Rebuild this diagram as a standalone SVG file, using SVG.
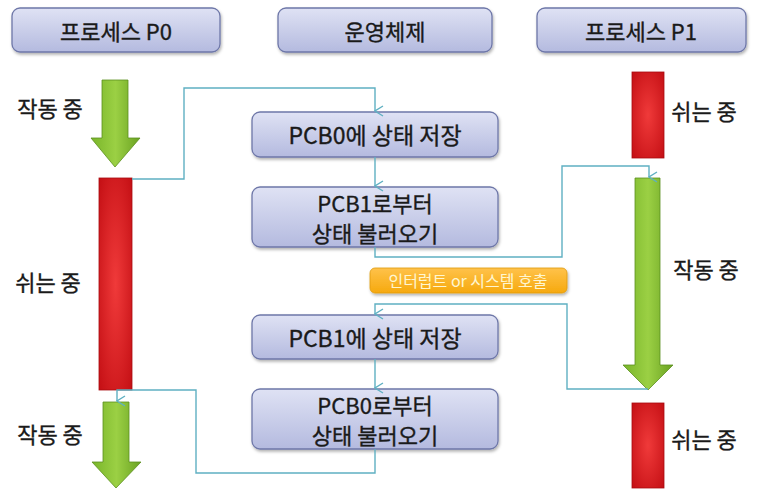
<svg xmlns="http://www.w3.org/2000/svg" width="768" height="503" viewBox="0 0 768 503">
<defs>
<linearGradient id="gBox" x1="0" y1="0" x2="0" y2="1">
<stop offset="0" stop-color="#dfe2f4"/>
<stop offset="1" stop-color="#b4badf"/>
</linearGradient>
<linearGradient id="gGreen" x1="0" y1="0" x2="1" y2="0">
<stop offset="0" stop-color="#79b52a"/>
<stop offset="0.5" stop-color="#9bd044"/>
<stop offset="1" stop-color="#6aa222"/>
</linearGradient>
<radialGradient id="gRed" cx="0.5" cy="0.5" r="0.7">
<stop offset="0" stop-color="#f03a3a"/>
<stop offset="1" stop-color="#c40f14"/>
</radialGradient>
<linearGradient id="gOrange" x1="0" y1="0" x2="0" y2="1">
<stop offset="0" stop-color="#ffc24a"/>
<stop offset="1" stop-color="#f6a90e"/>
</linearGradient>
<filter id="sh" x="-10%" y="-10%" width="130%" height="140%">
<feDropShadow dx="1" dy="2" stdDeviation="1.5" flood-color="#000" flood-opacity="0.3"/>
</filter>
<marker id="arr" markerWidth="12" markerHeight="10" refX="6" refY="9" orient="auto" markerUnits="userSpaceOnUse" viewBox="0 0 12 10">
<path d="M1,1 L6,9 L11,1" fill="none" stroke="#5fb0c2" stroke-width="1.4"/>
</marker>
</defs>
<style>
.box{fill:url(#gBox);stroke:#6e77a8;stroke-width:1.3;filter:url(#sh)}
.t{font-family:"Noto Sans CJK KR","Noto Sans",sans-serif;font-weight:400;fill:#1a1a1a;stroke:#1a1a1a;stroke-width:0.35;text-anchor:middle;dominant-baseline:central}
.h{font-size:22px}
.b{font-size:23px}
.b2{font-size:22px}
.l{font-size:22px}
.green{fill:url(#gGreen);stroke:#5c8f1e;stroke-width:0.8}
.red{fill:url(#gRed);stroke:#a80c10;stroke-width:0.8}
.con{fill:none;stroke:#5fb0c2;stroke-width:1.4}
</style>

<g id="hdr-p0">
<rect class="box" x="12" y="8" width="208" height="44" rx="8"/>
<text class="t h" x="116" y="30">프로세스 P0</text>
</g>
<g id="hdr-os">
<rect class="box" x="278" y="8" width="214" height="44" rx="8"/>
<text class="t h" x="385" y="30">운영체제</text>
</g>
<g id="hdr-p1">
<rect class="box" x="537" y="8" width="209" height="44" rx="8"/>
<text class="t h" x="641" y="30">프로세스 P1</text>
</g>

<g id="p0-run1">
<path class="green" d="M102,80 H128 V138 H140 L115,167 L91,138 H102 Z"/>
<text class="t l" x="50" y="107">작동 중</text>
</g>
<g id="p0-idle">
<rect class="red" x="99" y="178" width="33" height="212"/>
<text class="t l" x="48" y="281">쉬는 중</text>
</g>
<g id="p0-run2">
<path class="green" d="M103,402 H129 V462 H141 L116,488 L92,462 H103 Z"/>
<text class="t l" x="50" y="433">작동 중</text>
</g>

<g id="p1-idle1">
<rect class="red" x="632" y="72" width="32" height="86"/>
<text class="t l" x="704" y="110">쉬는 중</text>
</g>
<g id="p1-run">
<path class="green" d="M635,178 H660 V365 H673 L648,390 L623,365 H635 Z"/>
<text class="t l" x="706" y="268">작동 중</text>
</g>
<g id="p1-idle2">
<rect class="red" x="632" y="403" width="32" height="85"/>
<text class="t l" x="704" y="438">쉬는 중</text>
</g>

<g id="os-save0">
<rect class="box" x="252" y="112" width="246" height="45" rx="8"/>
<text class="t b" x="375" y="134">PCB0에 상태 저장</text>
</g>
<g id="os-load1">
<rect class="box" x="252" y="187" width="246" height="60" rx="8"/>
<text class="t b2" x="375" y="202">PCB1로부터</text>
<text class="t b2" x="375" y="232">상태 불러오기</text>
</g>
<g id="interrupt">
<rect x="370" y="268" width="197" height="25" rx="5" fill="url(#gOrange)" stroke="#e09a10" stroke-width="0.8" filter="url(#sh)"/>
<text class="t" x="468" y="280" style="font-size:16px;fill:#fff6d0;stroke:none">인터럽트 or 시스템 호출</text>
</g>
<g id="os-save1">
<rect class="box" x="252" y="315" width="246" height="44" rx="8"/>
<text class="t b" x="375" y="337">PCB1에 상태 저장</text>
</g>
<g id="os-load0">
<rect class="box" x="252" y="389" width="246" height="60" rx="8"/>
<text class="t b2" x="375" y="404">PCB0로부터</text>
<text class="t b2" x="375" y="434">상태 불러오기</text>
</g>

<g id="connectors">
<path class="con" d="M132,179 H184 V88 H375 V111" marker-end="url(#arr)"/>
<path class="con" d="M375,157 V186" marker-end="url(#arr)"/>
<path class="con" d="M375,247 V257 H562 V166 H649 V177" marker-end="url(#arr)"/>
<path class="con" d="M648,389 H567 V304 H375 V314" marker-end="url(#arr)"/>
<path class="con" d="M375,359 V388" marker-end="url(#arr)"/>
<path class="con" d="M375,449 V473 H196 V390 H117 V401" marker-end="url(#arr)"/>
</g>
</svg>
